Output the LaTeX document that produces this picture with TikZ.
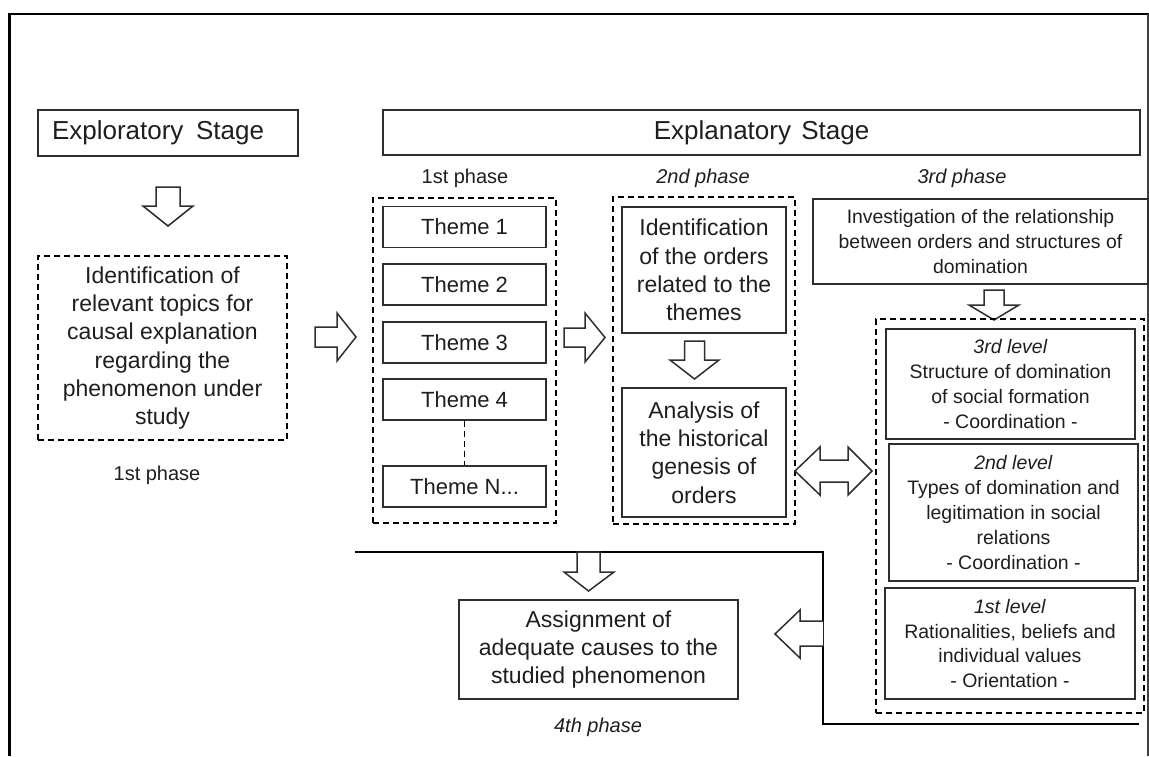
\documentclass[tikz,border=0pt]{standalone}
\usepackage{fontspec}
\setmainfont{Liberation Sans}
\definecolor{txt}{HTML}{1E1E1E}
\definecolor{linec}{HTML}{2E2E2E}
\begin{document}
\begin{tikzpicture}[x=1pt,y=-1pt,
  box/.style={draw=linec, line width=1.6pt, rectangle, inner sep=0pt, align=center, text=txt},
  dbox/.style={draw=black, line width=1.5pt, dash pattern=on 6pt off 4pt, rectangle, inner sep=0pt},
  blk/.style={draw=linec, line width=1.5pt, fill=white, line join=miter},
  lbl/.style={text=txt, inner sep=0pt, font=\fontsize{20}{24}\selectfont},
  fA/.style={font=\fontsize{23}{28.3}\selectfont},
  fT/.style={font=\fontsize{22}{26}\selectfont},
  fS/.style={font=\fontsize{19.5}{24.8}\selectfont},
  fH/.style={font=\fontsize{26}{30}\selectfont}
]
\useasboundingbox (0,0) rectangle (1149,756);
% frame
\draw[line width=3.5pt, black] (9.5,756) -- (9.5,14);
\draw[line width=2.8pt, black] (8,14) -- (1149,14);
\draw[line width=1.6pt, draw=black!75] (1148,14) -- (1148,756);

% stage headers
\node[box, fH, minimum width=260, minimum height=46, text width=232, inner xsep=14pt, align=left] (expl) at (168,133) {Exploratory\hspace{4pt} Stage};
\node[box, fH, minimum width=757, minimum height=45] (expn) at (761.5,132.5) {Explanatory\hspace{3pt} Stage};

% exploratory stage
\draw[blk] (156,187) -- (180,187) -- (180,206) -- (193,206) -- (168,226) -- (143,206) -- (156,206) -- cycle;
\node[dbox, text=txt, align=center, fA, minimum width=249, minimum height=184] (topics) at (162.5,348)
  {Identification of\\relevant topics for\\causal explanation\\regarding the\\phenomenon under\\study};
\node[lbl, anchor=base] (ph1a) at (157,480) {1st phase};

% arrow to themes
\draw[blk] (315,327) -- (337,327) -- (337,313) -- (356,337) -- (337,361) -- (337,347) -- (315,347) -- cycle;

% 1st phase
\node[lbl, anchor=base] (ph1b) at (465,183) {1st phase};
\node[dbox, minimum width=183, minimum height=325] (grp1) at (464.5,360.5) {};
\node[box, fT, minimum width=163, minimum height=41] (t1) at (464.5,227) {Theme 1};
\node[box, fT, minimum width=163, minimum height=41] (t2) at (464.5,284.5) {Theme 2};
\node[box, fT, minimum width=163, minimum height=41] (t3) at (464.5,342.5) {Theme 3};
\node[box, fT, minimum width=163, minimum height=41] (t4) at (464.5,399.5) {Theme 4};
\node[box, fT, minimum width=163, minimum height=41] (tN) at (464.5,486.5) {Theme N...};
\draw[draw=black, line width=1.5pt, dash pattern=on 6pt off 4pt] (t4.south) -- (tN.north);

% arrow to 2nd phase
\draw[blk] (564,328) -- (585,328) -- (585,313) -- (605,337.5) -- (585,362) -- (585,347) -- (564,347) -- cycle;

% 2nd phase
\node[lbl, anchor=base, font=\fontsize{20}{24}\selectfont\itshape] (ph2) at (703,183) {2nd phase};
\node[dbox, minimum width=182, minimum height=327] (grp2) at (704,360.5) {};
\node[box, fA, minimum width=164, minimum height=126] (ident) at (704,270)
  {Identification\\of the orders\\related to the\\themes};
\node[box, fA, minimum width=164, minimum height=129] (anal) at (704,452.5)
  {Analysis of\\the historical\\genesis of\\orders};
\draw[blk] (684.5,341) -- (704.5,341) -- (704.5,360) -- (719,360) -- (694.5,379) -- (670,360) -- (684.5,360) -- cycle;

% 3rd phase
\node[lbl, anchor=base, font=\fontsize{20}{24}\selectfont\itshape] (ph3) at (962,183) {3rd phase};
\node[box, font=\fontsize{19.4}{25}\selectfont, minimum width=335, minimum height=85] (inv) at (980.5,241.5)
  {Investigation of the relationship\\between orders and structures of\\domination};
\draw[blk] (984,290) -- (1004,290) -- (1004,305) -- (1019,305) -- (994,320) -- (969,305) -- (984,305) -- cycle;
\node[dbox, minimum width=268, minimum height=394] (grp3) at (1010,516) {};
\node[box, fS, minimum width=249, minimum height=110] (lv3) at (1010.5,384)
  {\textit{3rd level}\\Structure of domination\\of social formation\\- Coordination -};
\node[box, fS, minimum width=249, minimum height=137] (lv2) at (1013.5,512.5)
  {\textit{2nd level}\\Types of domination and\\legitimation in social\\relations\\- Coordination -};
\node[box, fS, minimum width=250, minimum height=111] (lv1) at (1010,643.5)
  {\textit{1st level}\\Rationalities, beliefs and\\individual values\\- Orientation -};

% double arrow between 2nd phase and levels
\draw[blk] (795,471) -- (820,447) -- (820,460) -- (848,460) -- (848,447) -- (872,471) -- (848,495) -- (848,482) -- (820,482) -- (820,495) -- cycle;

% bracket line
\draw[line width=2.2pt, black] (355,552) -- (823,552) -- (823,724) -- (1139,724);
% down arrow to 4th phase
\draw[blk] (577,552) -- (600,552) -- (600,572) -- (614,572) -- (588.5,591) -- (564,572) -- (577,572) -- cycle;
% left arrow to 4th phase
\draw[blk] (823,621) -- (800,621) -- (800,610) -- (775,634) -- (800,658) -- (800,646) -- (823,646);

% 4th phase
\node[box, fA, minimum width=279, minimum height=99] (assign) at (598.5,649.5)
  {Assignment of\\adequate causes to the\\studied phenomenon};
\node[lbl, anchor=base, font=\fontsize{20}{24}\selectfont\itshape] (ph4) at (598,732) {4th phase};
\end{tikzpicture}
\end{document}
